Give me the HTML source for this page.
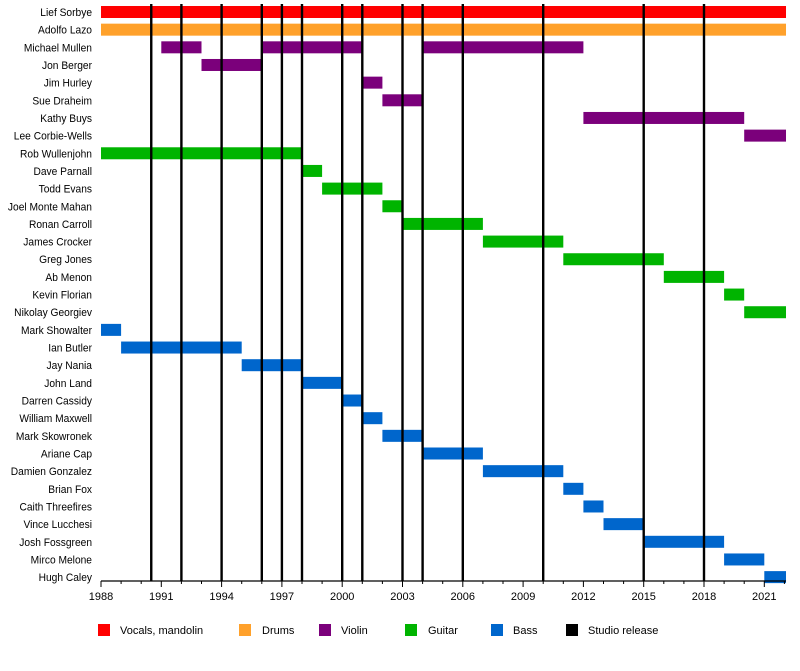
<!DOCTYPE html>
<html><head><style>body{margin:0;background:#fff}svg{display:block}text{font-family:"Liberation Sans",sans-serif;font-size:11px;fill:#000}</style></head>
<body>
<svg width="800" height="671" viewBox="0 0 800 671" xmlns="http://www.w3.org/2000/svg" id="s"></svg>
<script>
const s=document.getElementById('s');const ns='http://www.w3.org/2000/svg';
function el(t,a,txt){const e=document.createElementNS(ns,t);for(const k in a)e.setAttribute(k,a[k]);if(txt!==undefined)e.textContent=txt;s.appendChild(e);return e;}
const X=y=>101+(y-1988)*20.1, END=2022.08;
const C={v:'#ff0000',d:'#ffa12b',vi:'#7b007b',g:'#00b400',b:'#0066cc'};
const rows=[
['Lief Sorbye','v',[[1988,END]]],['Adolfo Lazo','d',[[1988,END]]],
['Michael Mullen','vi',[[1991,1993],[1996,2001],[2004,2012]]],['Jon Berger','vi',[[1993,1996]]],
['Jim Hurley','vi',[[2001,2002]]],['Sue Draheim','vi',[[2002,2004]]],['Kathy Buys','vi',[[2012,2020]]],
['Lee Corbie-Wells','vi',[[2020,END]]],['Rob Wullenjohn','g',[[1988,1998]]],['Dave Parnall','g',[[1998,1999]]],
['Todd Evans','g',[[1999,2002]]],['Joel Monte Mahan','g',[[2002,2003]]],['Ronan Carroll','g',[[2003,2007]]],
['James Crocker','g',[[2007,2011]]],['Greg Jones','g',[[2011,2016]]],['Ab Menon','g',[[2016,2019]]],
['Kevin Florian','g',[[2019,2020]]],['Nikolay Georgiev','g',[[2020,END]]],['Mark Showalter','b',[[1988,1989]]],
['Ian Butler','b',[[1989,1995]]],['Jay Nania','b',[[1995,1998]]],['John Land','b',[[1998,2000]]],
['Darren Cassidy','b',[[2000,2001]]],['William Maxwell','b',[[2001,2002]]],['Mark Skowronek','b',[[2002,2004]]],
['Ariane Cap','b',[[2004,2007]]],['Damien Gonzalez','b',[[2007,2011]]],['Brian Fox','b',[[2011,2012]]],
['Caith Threefires','b',[[2012,2013]]],['Vince Lucchesi','b',[[2013,2015]]],['Josh Fossgreen','b',[[2015,2019]]],
['Mirco Melone','b',[[2019,2021]]],['Hugh Caley','b',[[2021,END]]]];
rows.forEach((r,i)=>{const cy=12+i*17.66;
 el('text',{x:0,y:0,'text-anchor':'end',transform:`translate(92,${cy+4}) scale(0.93,1)`},r[0]);
 r[2].forEach(p=>el('rect',{x:X(p[0]),y:cy-6,width:X(p[1])-X(p[0]),height:12,fill:C[r[1]]}));});
[1990.5,1992,1994,1996,1997,1998,2000,2001,2003,2004,2006,2010,2015,2018].forEach(y=>el('rect',{x:X(y)-1.2,y:4,width:2.4,height:577,fill:'#000'}));
el('line',{x1:X(1988),y1:581,x2:X(END),y2:581,stroke:'#000','stroke-width':1.2});
for(let y=1988;y<=2022;y++){const maj=(y-1988)%3==0;el('line',{x1:X(y),y1:581,x2:X(y),y2:maj?587:584,stroke:'#000','stroke-width':1});
 if(maj)el('text',{x:X(y),y:600,'text-anchor':'middle'},String(y));}
[['#ff0000',98,120,'Vocals, mandolin'],['#ffa12b',239,262,'Drums'],['#7b007b',319,341,'Violin'],['#00b400',405,428,'Guitar'],['#0066cc',491,513,'Bass'],['#000',566,588,'Studio release']].forEach(l=>{
 el('rect',{x:l[1],y:624,width:12,height:12,fill:l[0]});el('text',{x:l[2],y:634},l[3]);});
</script>
</body></html>
